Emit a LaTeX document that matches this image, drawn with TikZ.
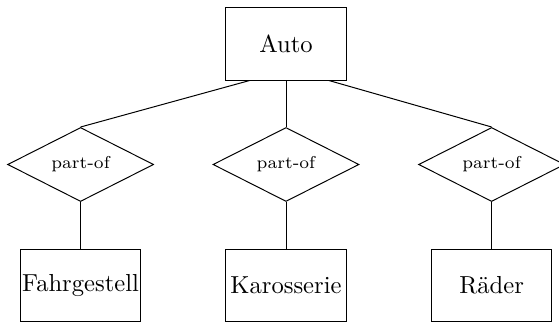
\documentclass[tikz,border=0pt]{standalone}
\usetikzlibrary{shapes.geometric}
\begin{document}
\begin{tikzpicture}[x=0.4065pt,y=-0.4065pt,
  entity/.style={draw, rectangle, inner sep=0pt, minimum width=120.6*0.4065pt, minimum height=72.6*0.4065pt},
  relation/.style={draw, diamond, inner sep=0pt, minimum width=146*0.4065pt, minimum height=72.4*0.4065pt, font=\scriptsize},
  link/.style={draw}]
\clip (0,0) rectangle (559,322);
\useasboundingbox (0,0) rectangle (559,322);
\node[entity] (auto) at (286,43.7) {Auto};
\node[relation] (r1) at (80.6,164.5) {part-of};
\node[relation] (r2) at (286,164.5) {part-of};
\node[relation] (r3) at (491.6,164.5) {part-of};
\node[entity] (fahr) at (80.6,285.4) {Fahrgestell};
\node[entity] (karo) at (286,285.4) {Karosserie};
\node[entity] (rad) at (491.6,285.4) {Räder};
\draw[link] ([xshift=24.5*0.4065pt]auto.south west) -- (r1.north);
\draw[link] (auto.south) -- (r2.north);
\draw[link] ([xshift=-18*0.4065pt]auto.south east) -- (r3.north);
\draw[link] (r1.south) -- (fahr.north);
\draw[link] (r2.south) -- (karo.north);
\draw[link] (r3.south) -- (rad.north);
\end{tikzpicture}
\end{document}
